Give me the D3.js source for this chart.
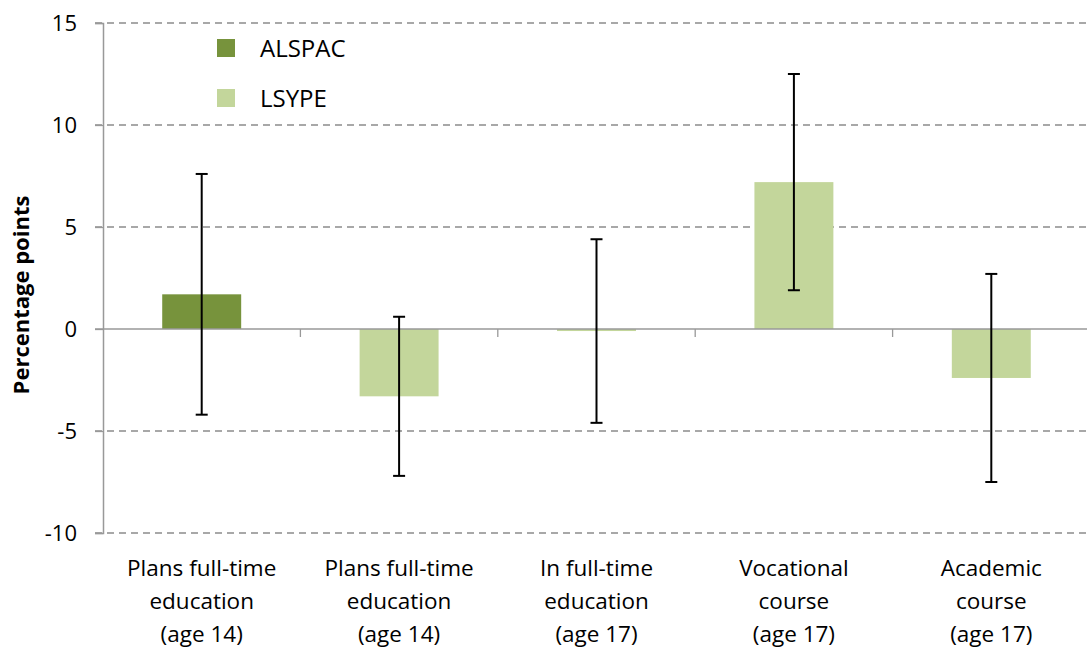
<!DOCTYPE html>
<html>
<head>
<meta charset="utf-8">
<script src="https://cdn.jsdelivr.net/npm/d3@7"></script>
<style>
  body { margin: 0; background: #fff; }
  svg text { font-family: "Open Sans", Lato, sans-serif; fill: #000; }
</style>
</head>
<body>
<svg id="chart" width="1087" height="650"></svg>
<script>
// donnees du graphique
const categories = [
  ["Plans full-time", "education", "(age 14)"],
  ["Plans full-time", "education", "(age 14)"],
  ["In full-time", "education", "(age 17)"],
  ["Vocational", "course", "(age 17)"],
  ["Academic", "course", "(age 17)"]
];
const series = ["ALSPAC", "LSYPE", "LSYPE", "LSYPE", "LSYPE"];
const values = [1.7, -3.3, -0.1, 7.2, -2.4];
const errLow = [-4.2, -7.2, -4.6, 1.9, -7.5];
const errHigh = [7.6, 0.6, 4.4, 12.5, 2.7];
const yTicks = [-10, -5, 0, 5, 10, 15];
const legendNames = ["ALSPAC", "LSYPE"];

const colors = { ALSPAC: "#77933C", LSYPE: "#C3D69B" };

const svg = d3.select("#chart");
const mLeft = 103, mRight = 1090, mTop = 23, mBottom = 533;

const x = d3.scaleBand()
  .domain(d3.range(categories.length))
  .range([mLeft, mRight])
  .paddingInner(0.6)
  .paddingOuter(0.3);

const y = d3.scaleLinear()
  .domain([-10, 15])
  .range([mBottom, mTop]);

// grille en pointilles
svg.append("g")
  .selectAll("line")
  .data(yTicks.filter(d => d !== 0))
  .join("line")
  .attr("x1", mLeft - 8)
  .attr("x2", 1087)
  .attr("y1", d => y(d))
  .attr("y2", d => y(d))
  .attr("stroke", "#8c8c8c")
  .attr("stroke-width", 1.3)
  .attr("stroke-dasharray", "7,5");

// axe Y
const yAxis = svg.append("g")
  .attr("transform", `translate(${mLeft},0)`)
  .call(d3.axisLeft(y).tickValues(yTicks).tickFormat(d => String(d)).tickSize(8).tickPadding(18));
yAxis.select(".domain").attr("stroke", "#999").attr("stroke-width", 1.5);
yAxis.selectAll(".tick line").attr("stroke", "#999").attr("stroke-width", 1.3);
yAxis.selectAll(".tick text")
  .style("font-size", "22px")
  .style("font-family", "'Open Sans', Lato, sans-serif")
  .attr("fill", "#000");

// barres
svg.append("g")
  .selectAll("rect")
  .data(values)
  .join("rect")
  .attr("x", (d, i) => x(i))
  .attr("width", x.bandwidth())
  .attr("y", d => y(Math.max(0, d)))
  .attr("height", d => Math.abs(y(d) - y(0)))
  .attr("fill", (d, i) => colors[series[i]]);

// ligne zero + ticks des categories
const step = x.step();
svg.append("line")
  .attr("x1", mLeft - 8).attr("x2", 1087)
  .attr("y1", y(0)).attr("y2", y(0))
  .attr("stroke", "#999").attr("stroke-width", 1.5);
svg.append("g")
  .selectAll("line")
  .data(d3.range(1, categories.length))
  .join("line")
  .attr("x1", i => x(i) - step * 0.3)
  .attr("x2", i => x(i) - step * 0.3)
  .attr("y1", y(0))
  .attr("y2", y(0) + 8)
  .attr("stroke", "#999")
  .attr("stroke-width", 1.3);

// barres d'erreur
const eb = svg.append("g").attr("stroke", "#000").attr("stroke-width", 2);
values.forEach((v, i) => {
  const cx = x(i) + x.bandwidth() / 2;
  eb.append("line").attr("x1", cx).attr("x2", cx).attr("y1", y(errLow[i])).attr("y2", y(errHigh[i]));
  eb.append("line").attr("x1", cx - 6).attr("x2", cx + 6).attr("y1", y(errLow[i])).attr("y2", y(errLow[i]));
  eb.append("line").attr("x1", cx - 6).attr("x2", cx + 6).attr("y1", y(errHigh[i])).attr("y2", y(errHigh[i]));
});

// etiquettes des categories
const lab = svg.append("g");
categories.forEach((lines, i) => {
  const cx = x(i) + x.bandwidth() / 2;
  const t = lab.append("text")
    .attr("text-anchor", "middle")
    .style("font-size", "22.5px");
  lines.forEach((s, j) => {
    t.append("tspan").attr("x", cx).attr("y", 576 + j * 33).text(s);
  });
});

// titre axe Y
svg.append("text")
  .attr("transform", "translate(29,295) rotate(-90)")
  .attr("text-anchor", "middle")
  .style("font-size", "22px")
  .style("font-weight", "bold")
  .text("Percentage points");

// legende
const leg = svg.append("g");
legendNames.forEach((name, i) => {
  leg.append("rect")
    .attr("x", 217).attr("y", 39 + i * 50)
    .attr("width", 18).attr("height", 18)
    .attr("fill", colors[name]);
  leg.append("text")
    .attr("x", 260).attr("y", 57 + i * 50)
    .style("font-size", "24px")
    .text(name);
});
</script>
</body>
</html>
